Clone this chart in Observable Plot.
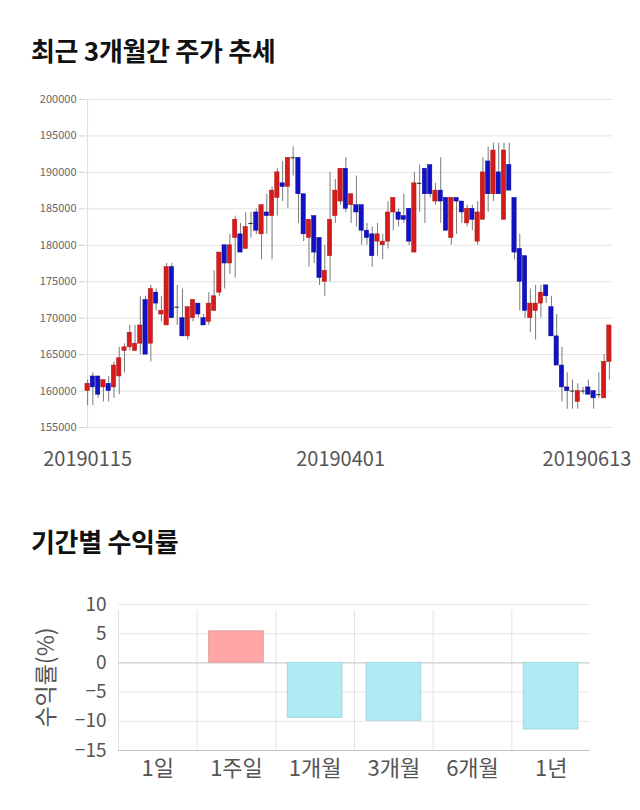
<!DOCTYPE html>
<html>
<head>
<meta charset="utf-8">
<script src="https://cdn.jsdelivr.net/npm/d3@7"></script>
<script src="https://cdn.jsdelivr.net/npm/@observablehq/plot@0.6"></script>
<style>
  body { margin: 0; background: #fff; width: 640px; height: 810px; position: relative; font-family: "Noto Sans CJK KR", sans-serif; }
  .title { position: absolute; left: 31px; font-weight: 700; font-size: 26px; line-height: 1; color: #111; letter-spacing: -0.3px; }
  .chart { position: absolute; left: 0; }
</style>
</head>
<body>
<div class="title" style="top:37px">최근 3개월간 주가 추세</div>
<div class="chart" id="c1" style="top:85px"></div>
<div class="title" style="top:528px">기간별 수익률</div>
<div class="chart" id="c2" style="top:585px"></div>
<script>
// ---- Candlestick data (daily, 2019-01-15 .. 2019-06-13) ----
const openP  = [160000,162000,162000,160500,161000,160500,162000,165500,166000,165500,
                166500,172500,166500,173500,170500,169000,177000,171500,170000,167500,
                170000,172000,170000,169500,171000,173500,180000,177500,181000,181500,
                179500,183000,184500,181500,184500,184000,186500,188500,188000,192000,
                192000,187000,181000,184000,181000,175000,178500,184000,186000,190500,
                185500,185500,185500,182000,181500,180500,180000,180500,184500,184500,
                184000,185000,179000,188500,190500,191000,186000,187500,186500,181000,
                186500,186000,183000,185000,180500,183500,191500,187000,190000,183500,
                191000,186500,179500,178500,170000,171000,172000,174500,171500,167500,
                163500,160500,160000,158500,160000,160500,160000,159500,159000,164000];
const highP  = [161500,162500,162000,161500,162000,164000,166000,166500,169000,169000,
                173000,173000,174500,174000,173000,177500,177500,174500,174000,171500,
                172500,172000,170500,173500,176500,179000,180000,181500,184000,183000,
                184500,184500,185000,185500,187000,188000,190500,191500,192000,193500,
                192000,187000,183500,184000,181000,180000,190000,189000,190500,192000,
                187000,189500,185500,183000,182500,183000,181500,186000,186500,185000,
                187000,185000,190000,191000,190500,191000,188500,192000,186500,186500,
                186500,186000,185500,185500,186000,192000,193500,194000,194000,194000,
                194000,186500,181500,178500,174000,174500,174500,174500,173000,170500,
                166000,162500,161500,161000,160500,161500,160000,162500,165000,169000];
const lowP   = [158000,158000,159000,158500,158500,159000,159500,162500,165500,165500,
                165000,165000,164000,171000,169500,169000,170000,169000,167500,167000,
                169500,170000,169000,169000,171000,173000,174000,176000,175500,179000,
                179500,181000,181500,178000,181500,178000,184000,186000,185000,189500,
                183000,180500,177000,177500,174500,173000,175000,183000,185500,184500,
                183000,182500,180000,180000,177000,178500,178000,179500,182000,182500,
                183000,180000,179000,184500,183000,186500,185500,183000,182000,180000,
                181500,183000,182500,182000,180000,183500,184500,186000,187000,183500,
                187500,178000,171000,170000,168000,167000,170000,172000,167500,163500,
                158500,157500,157500,157500,159500,159500,157500,159000,159000,161500];
const closeP = [161000,160500,159500,161500,160000,163500,164500,166000,168000,166500,
                169000,165000,174000,172000,171000,177000,170000,171500,167500,171500,
                172500,170500,169000,172000,173000,179000,177500,180000,183500,179000,
                182500,183000,182000,185500,184000,187500,190000,188000,192000,192000,
                187000,181500,183500,179000,175500,176500,183500,187500,190500,185000,
                187000,184500,182000,181000,178500,181500,180500,184500,186500,183500,
                183500,180500,188500,188500,187000,187000,187500,186000,182000,186500,
                186000,184500,185000,183500,184500,190000,187000,193000,187000,193000,
                187500,179000,175000,171000,172000,172000,173500,173000,167500,163500,
                160500,160000,160000,160000,160000,159500,159000,159500,164000,169000];
const yTicks = [155000,160000,165000,170000,175000,180000,185000,190000,195000,200000];
const dateTickIdx = [0, 48, 99];
const dateTickLabels = ["20190115", "20190401", "20190613"];

// ---- Period returns ----
const periods = ["1일", "1주일", "1개월", "3개월", "6개월", "1년"];
const returnsPct = [0, 5.4, -9.4, -9.9, 0, -11.4];
const retTicks = [-15, -10, -5, 0, 5, 10];

const FONT = "'Noto Sans CJK KR', sans-serif";

const candles = openP.map((o, i) => ({i, open: o, high: highP[i], low: lowP[i], close: closeP[i]}));
const up = candles.filter(d => d.close > d.open);
const down = candles.filter(d => d.close < d.open);
const flat = candles.filter(d => d.close === d.open);
const dateTicks = dateTickIdx.map((i, k) => ({i, label: dateTickLabels[k]}));

const c1 = Plot.plot({
  width: 640, height: 400,
  marginTop: 14, marginBottom: 58, marginLeft: 84, marginRight: 28,
  style: {fontFamily: FONT, background: "transparent"},
  x: {type: "band", domain: candles.map(d => d.i), padding: 0.18, round: false, axis: null},
  y: {domain: [155000, 200000], axis: null},
  marks: [
    Plot.gridY(yTicks, {stroke: "#e3e3e3", strokeOpacity: 1}),
    Plot.axisY(yTicks, {tickFormat: "d", tickSize: 5, tickPadding: 3, stroke: "#cfcfcf", fill: "#666", fontSize: 11, label: null}),
    Plot.ruleX([candles[0]], {x: "i", stroke: "#dcdcdc"}),
    Plot.ruleX(candles, {x: "i", y1: "low", y2: "high", stroke: "#7a7a7a", strokeWidth: 1}),
    Plot.barY(up, {x: "i", y1: "open", y2: "close", fill: "#d41c1c", stroke: "#b01212", strokeWidth: 0.5}),
    Plot.barY(down, {x: "i", y1: "open", y2: "close", fill: "#1212c4", stroke: "#0a0a96", strokeWidth: 0.5}),
    Plot.tickY(flat, {x: "i", y: "close", stroke: "#222", strokeWidth: 1}),
    Plot.text(dateTicks.slice(0, 2), {x: "i", text: "label", frameAnchor: "bottom", dy: 38, fontSize: 20, fill: "#555"}),
    Plot.text(dateTicks.slice(2), {x: "i", text: "label", frameAnchor: "bottom", dy: 38, dx: 22, textAnchor: "end", fontSize: 20, fill: "#555"})
  ]
});
document.getElementById("c1").append(c1);

const retData = periods.map((p, k) => ({p, v: returnsPct[k]}));
const bw = (640 - 118 - 50) / periods.length;
const c2 = Plot.plot({
  width: 640, height: 215,
  marginTop: 19, marginBottom: 50, marginLeft: 118, marginRight: 50,
  style: {fontFamily: FONT, background: "transparent"},
  x: {type: "band", domain: periods, padding: 0, round: false, axis: null},
  y: {domain: [-15, 10], axis: null},
  marks: [
    Plot.gridY(retTicks, {stroke: "#e6e6e6", strokeOpacity: 1}),
    Plot.ruleX(periods, {x: d => d, dx: -bw / 2, y1: -15, y2: 10, insetBottom: -6, stroke: "#e3e3e3"}),
    Plot.ruleY([0], {stroke: "#cccccc"}),
    Plot.ruleY([-15], {stroke: "#c4c4c4"}),
    Plot.barY(retData.filter(d => d.v > 0), {x: "p", y: "v", fill: "#ffa6a6", stroke: "#e2a3a3", insetLeft: 12, insetRight: 12}),
    Plot.barY(retData.filter(d => d.v < 0), {x: "p", y: "v", fill: "#b0eaf3", stroke: "#a3d6de", insetLeft: 12, insetRight: 12}),
    Plot.axisY(retTicks, {tickSize: 0, tickPadding: 12, fontSize: 19, fill: "#555", label: "수익률(%)", labelAnchor: "center", labelOffset: 81, labelArrow: "none"}),
    Plot.axisX({tickSize: 0, tickPadding: 10, fontSize: 22, fill: "#555", label: null})
  ]
});
// enlarge the rotated y-axis label only
c2.querySelectorAll("text").forEach(t => { if (t.textContent === "수익률(%)") t.setAttribute("font-size", 23); });
document.getElementById("c2").append(c2);
</script>
</body>
</html>
